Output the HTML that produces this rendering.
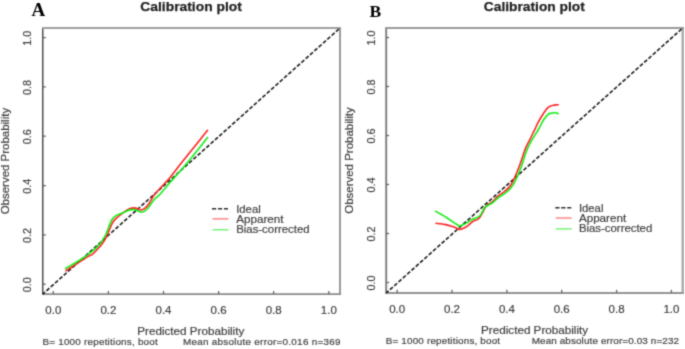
<!DOCTYPE html>
<html><head><meta charset="utf-8"><style>
html,body{margin:0;padding:0;background:#fff;}
svg text{stroke:#444;stroke-width:0.2px;}
svg{display:block;font-family:"Liberation Sans",sans-serif;}
</style></head><body>
<svg width="685" height="349" viewBox="0 0 685 349">
<defs><filter id="bl" x="0" y="0" width="685" height="349" filterUnits="userSpaceOnUse" color-interpolation-filters="sRGB"><feConvolveMatrix order="5" kernelMatrix="0.00001 0.00042 0.00170 0.00042 0.00001 0.00042 0.02740 0.10988 0.02740 0.00042 0.00170 0.10988 0.44065 0.10988 0.00170 0.00042 0.02740 0.10988 0.02740 0.00042 0.00001 0.00042 0.00170 0.00042 0.00001" edgeMode="duplicate"/></filter></defs>
<g filter="url(#bl)">
<rect width="685" height="349" fill="#fff"/>
<line x1="42.75" y1="27.0" x2="42.75" y2="295.1" stroke="#444" stroke-width="1.4"/>
<line x1="340.0" y1="27.0" x2="340.0" y2="295.1" stroke="#9a9a9a" stroke-width="2.0"/>
<line x1="42.05" y1="28.0" x2="341.1" y2="28.0" stroke="#a0a0a0" stroke-width="2.0"/>
<line x1="42.05" y1="294.1" x2="341.1" y2="294.1" stroke="#8a8a8a" stroke-width="1.8"/>
<line x1="53.3" y1="294.1" x2="53.3" y2="290.90000000000003" stroke="#666" stroke-width="1.3"/>
<line x1="42.75" y1="284.2" x2="45.75" y2="284.2" stroke="#666" stroke-width="1.3"/>
<text x="53.3" y="313.6" text-anchor="middle" font-size="11.5" fill="#3d3d3d" textLength="16" lengthAdjust="spacingAndGlyphs">0.0</text>
<text transform="translate(30.6 284.8) rotate(-90)" x="0" y="0" text-anchor="middle" font-size="11.0" fill="#3d3d3d" textLength="15.0" lengthAdjust="spacingAndGlyphs">0.0</text>
<line x1="108.4" y1="294.1" x2="108.4" y2="290.90000000000003" stroke="#666" stroke-width="1.3"/>
<line x1="42.75" y1="234.9" x2="45.75" y2="234.9" stroke="#666" stroke-width="1.3"/>
<text x="108.4" y="313.6" text-anchor="middle" font-size="11.5" fill="#3d3d3d" textLength="16" lengthAdjust="spacingAndGlyphs">0.2</text>
<text transform="translate(30.6 235.5) rotate(-90)" x="0" y="0" text-anchor="middle" font-size="11.0" fill="#3d3d3d" textLength="15.0" lengthAdjust="spacingAndGlyphs">0.2</text>
<line x1="163.5" y1="294.1" x2="163.5" y2="290.90000000000003" stroke="#666" stroke-width="1.3"/>
<line x1="42.75" y1="185.6" x2="45.75" y2="185.6" stroke="#666" stroke-width="1.3"/>
<text x="163.5" y="313.6" text-anchor="middle" font-size="11.5" fill="#3d3d3d" textLength="16" lengthAdjust="spacingAndGlyphs">0.4</text>
<text transform="translate(30.6 186.2) rotate(-90)" x="0" y="0" text-anchor="middle" font-size="11.0" fill="#3d3d3d" textLength="15.0" lengthAdjust="spacingAndGlyphs">0.4</text>
<line x1="218.6" y1="294.1" x2="218.6" y2="290.90000000000003" stroke="#666" stroke-width="1.3"/>
<line x1="42.75" y1="136.2" x2="45.75" y2="136.2" stroke="#666" stroke-width="1.3"/>
<text x="218.6" y="313.6" text-anchor="middle" font-size="11.5" fill="#3d3d3d" textLength="16" lengthAdjust="spacingAndGlyphs">0.6</text>
<text transform="translate(30.6 136.8) rotate(-90)" x="0" y="0" text-anchor="middle" font-size="11.0" fill="#3d3d3d" textLength="15.0" lengthAdjust="spacingAndGlyphs">0.6</text>
<line x1="273.7" y1="294.1" x2="273.7" y2="290.90000000000003" stroke="#666" stroke-width="1.3"/>
<line x1="42.75" y1="86.9" x2="45.75" y2="86.9" stroke="#666" stroke-width="1.3"/>
<text x="273.7" y="313.6" text-anchor="middle" font-size="11.5" fill="#3d3d3d" textLength="16" lengthAdjust="spacingAndGlyphs">0.8</text>
<text transform="translate(30.6 87.5) rotate(-90)" x="0" y="0" text-anchor="middle" font-size="11.0" fill="#3d3d3d" textLength="15.0" lengthAdjust="spacingAndGlyphs">0.8</text>
<line x1="328.8" y1="294.1" x2="328.8" y2="290.90000000000003" stroke="#666" stroke-width="1.3"/>
<line x1="42.75" y1="37.6" x2="45.75" y2="37.6" stroke="#666" stroke-width="1.3"/>
<text x="328.8" y="313.6" text-anchor="middle" font-size="11.5" fill="#3d3d3d" textLength="16" lengthAdjust="spacingAndGlyphs">1.0</text>
<text transform="translate(30.6 38.2) rotate(-90)" x="0" y="0" text-anchor="middle" font-size="11.0" fill="#3d3d3d" textLength="15.0" lengthAdjust="spacingAndGlyphs">1.0</text>
<line x1="42.75" y1="294.1" x2="340.0" y2="28.0" stroke="#151515" stroke-width="1.55" stroke-dasharray="3.9 1.9" stroke-dashoffset="0.85"/>
<path d="M66.0 270.7 C66.8 270.2 68.4 269.2 70.6 267.8 C72.8 266.4 76.3 264.1 79.2 262.2 C82.1 260.3 85.7 257.9 87.8 256.6 C89.9 255.3 90.4 255.8 92.0 254.6 C93.6 253.4 95.6 251.1 97.2 249.4 C98.8 247.7 100.5 245.9 101.8 244.2 C103.1 242.5 104.2 240.7 105.2 239.1 C106.2 237.5 106.7 236.2 107.5 234.5 C108.3 232.8 109.0 230.6 109.8 228.8 C110.6 227.0 111.2 225.1 112.1 223.6 C112.9 222.1 113.9 220.7 114.9 219.6 C115.9 218.5 116.4 218.1 118.0 216.8 C119.6 215.5 122.4 213.1 124.3 211.8 C126.2 210.5 127.8 209.5 129.5 208.8 C131.2 208.2 132.8 207.9 134.2 207.9 C135.6 207.9 137.0 208.5 138.1 208.8 C139.2 209.2 139.7 210.0 140.7 210.0 C141.7 210.0 142.8 209.7 144.1 208.8 C145.4 207.9 147.1 206.2 148.4 204.5 C149.7 202.8 150.7 200.7 151.8 198.9 C152.9 197.2 152.0 197.6 155.0 194.0 C158.0 190.4 165.4 182.8 170.0 177.4 C174.6 172.0 178.3 166.7 182.5 161.5 C186.7 156.3 190.8 151.2 195.0 146.0 C199.2 140.8 205.4 132.9 207.5 130.3" fill="none" stroke="#f22" stroke-width="1.6" stroke-linejoin="round" stroke-linecap="round"/>
<path d="M65.6 268.5 C66.4 268.0 68.3 266.9 70.6 265.6 C72.9 264.3 76.3 262.3 79.2 260.5 C82.1 258.7 85.2 256.6 87.8 254.6 C90.4 252.7 93.0 250.5 94.9 248.8 C96.9 247.1 98.2 245.7 99.5 244.2 C100.8 242.7 101.9 241.2 102.9 239.6 C104.0 238.0 104.9 236.3 105.8 234.5 C106.7 232.7 107.3 230.7 108.1 228.8 C108.8 226.9 109.5 224.9 110.3 223.2 C111.0 221.5 111.6 220.1 112.6 218.8 C113.6 217.5 115.0 216.3 116.1 215.6 C117.2 214.8 117.8 214.9 119.2 214.3 C120.6 213.7 122.6 212.9 124.3 212.2 C126.0 211.5 127.8 210.3 129.5 209.9 C131.2 209.5 132.8 209.4 134.2 209.6 C135.6 209.8 136.9 210.5 138.1 210.9 C139.3 211.3 140.3 212.2 141.5 212.2 C142.7 212.2 143.8 211.7 145.0 210.9 C146.2 210.1 147.3 208.9 148.4 207.5 C149.5 206.1 150.7 204.1 151.8 202.7 C152.9 201.2 153.6 200.2 155.0 198.8 C156.4 197.4 157.5 196.9 160.0 194.2 C162.5 191.5 165.8 187.3 170.0 182.5 C174.2 177.7 180.5 170.8 185.0 165.5 C189.5 160.2 193.2 155.5 197.0 150.8 C200.8 146.1 205.8 139.7 207.6 137.5" fill="none" stroke="#1e1" stroke-width="1.6" stroke-linejoin="round" stroke-linecap="round"/>
<line x1="212" y1="208.7" x2="228" y2="208.7" stroke="#2a2a2a" stroke-width="1.6" stroke-dasharray="4.2 1.8"/>
<line x1="212.5" y1="218.9" x2="228.4" y2="218.9" stroke="#f66" stroke-width="1.2"/>
<line x1="212.5" y1="229.8" x2="228.4" y2="229.8" stroke="#5e5" stroke-width="1.2"/>
<text x="236.2" y="212.5" font-size="11.3" fill="#3d3d3d">Ideal</text>
<text x="236.2" y="222.7" font-size="11.3" fill="#3d3d3d" textLength="47.3" lengthAdjust="spacingAndGlyphs">Apparent</text>
<text x="236.2" y="233.2" font-size="11.3" fill="#3d3d3d" textLength="73.4" lengthAdjust="spacingAndGlyphs">Bias-corrected</text>
<text x="140.3" y="11" font-size="13.6" font-weight="bold" fill="#1e1e1e" style="stroke:#1e1e1e;stroke-width:0.25px" textLength="101.5" lengthAdjust="spacingAndGlyphs">Calibration plot</text>
<text x="31.6" y="15.6" font-family="Liberation Serif" font-size="19" font-weight="bold" fill="#000" style="stroke:none">A</text>
<text x="137.3" y="334.8" font-size="11.5" fill="#3d3d3d" textLength="107" lengthAdjust="spacingAndGlyphs">Predicted Probability</text>
<text transform="translate(8.6 161.1) rotate(-90)" text-anchor="middle" font-size="11.5" fill="#3d3d3d" textLength="106.5" lengthAdjust="spacingAndGlyphs">Observed Probability</text>
<text x="42.4" y="345.2" font-size="9.9" fill="#3d3d3d" textLength="115.4" lengthAdjust="spacing">B= 1000 repetitions, boot</text>
<text x="183" y="345.2" font-size="9.9" fill="#3d3d3d" textLength="157.5" lengthAdjust="spacing">Mean absolute error=0.016 n=369</text>
<line x1="386.2" y1="27.0" x2="386.2" y2="294.0" stroke="#7c7c7c" stroke-width="1.9"/>
<line x1="682.7" y1="27.0" x2="682.7" y2="294.0" stroke="#a5a5a5" stroke-width="2.3"/>
<line x1="385.5" y1="28.0" x2="683.8000000000001" y2="28.0" stroke="#9a9a9a" stroke-width="2.0"/>
<line x1="385.5" y1="293.0" x2="683.8000000000001" y2="293.0" stroke="#939393" stroke-width="2.0"/>
<line x1="397.2" y1="293.0" x2="397.2" y2="289.8" stroke="#666" stroke-width="1.3"/>
<line x1="386.2" y1="282.5" x2="389.2" y2="282.5" stroke="#666" stroke-width="1.3"/>
<text x="397.2" y="312.9" text-anchor="middle" font-size="11.5" fill="#3d3d3d" textLength="16" lengthAdjust="spacingAndGlyphs">0.0</text>
<text transform="translate(374.6 283.1) rotate(-90)" x="0" y="0" text-anchor="middle" font-size="11.0" fill="#3d3d3d" textLength="15.0" lengthAdjust="spacingAndGlyphs">0.0</text>
<line x1="452.0" y1="293.0" x2="452.0" y2="289.8" stroke="#666" stroke-width="1.3"/>
<line x1="386.2" y1="233.5" x2="389.2" y2="233.5" stroke="#666" stroke-width="1.3"/>
<text x="452.0" y="312.9" text-anchor="middle" font-size="11.5" fill="#3d3d3d" textLength="16" lengthAdjust="spacingAndGlyphs">0.2</text>
<text transform="translate(374.6 234.1) rotate(-90)" x="0" y="0" text-anchor="middle" font-size="11.0" fill="#3d3d3d" textLength="15.0" lengthAdjust="spacingAndGlyphs">0.2</text>
<line x1="506.9" y1="293.0" x2="506.9" y2="289.8" stroke="#666" stroke-width="1.3"/>
<line x1="386.2" y1="184.5" x2="389.2" y2="184.5" stroke="#666" stroke-width="1.3"/>
<text x="506.9" y="312.9" text-anchor="middle" font-size="11.5" fill="#3d3d3d" textLength="16" lengthAdjust="spacingAndGlyphs">0.4</text>
<text transform="translate(374.6 185.1) rotate(-90)" x="0" y="0" text-anchor="middle" font-size="11.0" fill="#3d3d3d" textLength="15.0" lengthAdjust="spacingAndGlyphs">0.4</text>
<line x1="561.7" y1="293.0" x2="561.7" y2="289.8" stroke="#666" stroke-width="1.3"/>
<line x1="386.2" y1="135.5" x2="389.2" y2="135.5" stroke="#666" stroke-width="1.3"/>
<text x="561.7" y="312.9" text-anchor="middle" font-size="11.5" fill="#3d3d3d" textLength="16" lengthAdjust="spacingAndGlyphs">0.6</text>
<text transform="translate(374.6 136.1) rotate(-90)" x="0" y="0" text-anchor="middle" font-size="11.0" fill="#3d3d3d" textLength="15.0" lengthAdjust="spacingAndGlyphs">0.6</text>
<line x1="616.6" y1="293.0" x2="616.6" y2="289.8" stroke="#666" stroke-width="1.3"/>
<line x1="386.2" y1="86.5" x2="389.2" y2="86.5" stroke="#666" stroke-width="1.3"/>
<text x="616.6" y="312.9" text-anchor="middle" font-size="11.5" fill="#3d3d3d" textLength="16" lengthAdjust="spacingAndGlyphs">0.8</text>
<text transform="translate(374.6 87.1) rotate(-90)" x="0" y="0" text-anchor="middle" font-size="11.0" fill="#3d3d3d" textLength="15.0" lengthAdjust="spacingAndGlyphs">0.8</text>
<line x1="671.4" y1="293.0" x2="671.4" y2="289.8" stroke="#666" stroke-width="1.3"/>
<line x1="386.2" y1="37.5" x2="389.2" y2="37.5" stroke="#666" stroke-width="1.3"/>
<text x="671.4" y="312.9" text-anchor="middle" font-size="11.5" fill="#3d3d3d" textLength="16" lengthAdjust="spacingAndGlyphs">1.0</text>
<text transform="translate(374.6 38.1) rotate(-90)" x="0" y="0" text-anchor="middle" font-size="11.0" fill="#3d3d3d" textLength="15.0" lengthAdjust="spacingAndGlyphs">1.0</text>
<line x1="386.2" y1="293.0" x2="682.7" y2="28.0" stroke="#151515" stroke-width="1.55" stroke-dasharray="3.9 1.88" stroke-dashoffset="0.77"/>
<path d="M436.0 223.3 C436.8 223.4 439.0 223.5 440.6 223.7 C442.2 223.9 444.1 224.2 445.8 224.6 C447.5 225.0 449.2 225.5 450.9 226.1 C452.6 226.7 454.8 227.4 456.1 228.0 C457.5 228.6 457.9 229.3 459.0 229.4 C460.1 229.5 461.5 229.2 463.0 228.6 C464.5 228.0 466.3 226.8 468.0 225.6 C469.7 224.4 471.5 222.4 473.0 221.4 C474.5 220.4 476.0 220.3 477.2 219.6 C478.4 218.9 479.1 218.2 480.0 217.0 C480.9 215.8 481.8 213.9 482.6 212.5 C483.4 211.1 483.9 209.7 484.6 208.5 C485.3 207.3 486.1 206.4 487.0 205.5 C487.9 204.6 488.9 204.1 490.0 203.3 C491.1 202.6 492.0 202.2 493.3 201.0 C494.6 199.8 496.0 197.8 497.9 196.2 C499.8 194.6 502.5 193.1 504.4 191.5 C506.3 189.9 508.1 188.5 509.5 186.9 C510.9 185.3 511.7 183.7 512.7 181.8 C513.7 179.9 514.5 178.0 515.6 175.4 C516.7 172.8 518.2 169.3 519.4 166.0 C520.6 162.7 521.8 159.0 522.9 155.8 C524.0 152.6 524.8 149.7 526.1 146.8 C527.4 143.9 529.1 141.2 530.5 138.4 C531.9 135.6 533.4 132.2 534.6 129.8 C535.8 127.4 536.5 125.7 537.5 123.7 C538.5 121.7 539.6 119.7 540.6 118.0 C541.6 116.3 542.6 114.9 543.3 113.8 C544.0 112.7 544.2 112.2 545.0 111.2 C545.8 110.2 546.9 108.6 547.9 107.7 C548.9 106.8 549.8 106.4 550.7 106.0 C551.7 105.6 552.6 105.4 553.6 105.2 C554.6 105.0 555.7 104.9 556.5 104.8 C557.3 104.7 558.0 104.8 558.3 104.8" fill="none" stroke="#f22" stroke-width="1.6" stroke-linejoin="round" stroke-linecap="round"/>
<path d="M435.6 211.3 C436.5 211.8 439.3 213.3 441.0 214.3 C442.7 215.3 444.3 216.1 446.0 217.2 C447.7 218.2 449.3 219.5 451.0 220.6 C452.7 221.7 454.6 223.0 456.0 223.9 C457.4 224.8 458.4 225.9 459.6 226.0 C460.8 226.1 461.6 225.3 463.0 224.7 C464.4 224.0 466.2 223.1 468.0 222.1 C469.8 221.1 472.0 219.6 473.5 218.8 C475.0 218.1 475.9 218.2 477.0 217.6 C478.1 217.0 479.5 216.3 480.4 215.3 C481.3 214.3 481.7 212.8 482.4 211.6 C483.1 210.4 483.7 208.9 484.4 208.0 C485.1 207.1 485.9 206.6 486.8 206.0 C487.7 205.4 488.9 205.0 490.0 204.4 C491.1 203.8 492.0 203.3 493.3 202.2 C494.6 201.1 496.0 199.4 497.9 198.0 C499.8 196.6 502.5 195.0 504.4 193.6 C506.3 192.2 508.0 191.0 509.5 189.5 C511.0 188.0 512.3 186.1 513.4 184.4 C514.5 182.7 515.2 180.9 516.0 179.2 C516.8 177.5 517.4 176.4 518.3 174.2 C519.2 172.0 520.5 169.2 521.6 166.1 C522.7 163.0 523.7 158.9 524.8 155.8 C525.9 152.7 526.7 150.3 528.0 147.4 C529.3 144.5 531.2 141.3 532.8 138.6 C534.4 135.9 536.1 133.3 537.5 131.0 C538.9 128.7 539.9 126.8 540.9 124.9 C541.9 123.0 542.6 121.2 543.8 119.5 C545.0 117.8 546.8 115.6 547.9 114.6 C549.0 113.5 549.8 113.5 550.7 113.2 C551.7 112.9 552.6 112.8 553.6 112.8 C554.6 112.8 555.7 112.9 556.5 113.0 C557.3 113.1 557.9 113.4 558.2 113.5" fill="none" stroke="#1e1" stroke-width="1.6" stroke-linejoin="round" stroke-linecap="round"/>
<line x1="555.3" y1="207.8" x2="571.3" y2="207.8" stroke="#2a2a2a" stroke-width="1.6" stroke-dasharray="4.2 1.8"/>
<line x1="555.8" y1="218.0" x2="571.6999999999999" y2="218.0" stroke="#f66" stroke-width="1.2"/>
<line x1="555.8" y1="228.9" x2="571.6999999999999" y2="228.9" stroke="#5e5" stroke-width="1.2"/>
<text x="578.9" y="211.6" font-size="11.3" fill="#3d3d3d">Ideal</text>
<text x="578.9" y="221.8" font-size="11.3" fill="#3d3d3d" textLength="47.3" lengthAdjust="spacingAndGlyphs">Apparent</text>
<text x="578.9" y="232.3" font-size="11.3" fill="#3d3d3d" textLength="73.4" lengthAdjust="spacingAndGlyphs">Bias-corrected</text>
<text x="483.8" y="11" font-size="13.6" font-weight="bold" fill="#1e1e1e" style="stroke:#1e1e1e;stroke-width:0.25px" textLength="101.0" lengthAdjust="spacingAndGlyphs">Calibration plot</text>
<text x="369.5" y="17.0" font-family="Liberation Serif" font-size="17.5" font-weight="bold" fill="#000" style="stroke:none">B</text>
<text x="481.1" y="333.9" font-size="11.5" fill="#3d3d3d" textLength="107" lengthAdjust="spacingAndGlyphs">Predicted Probability</text>
<text transform="translate(352.6 160.5) rotate(-90)" text-anchor="middle" font-size="11.5" fill="#3d3d3d" textLength="106.5" lengthAdjust="spacingAndGlyphs">Observed Probability</text>
<text x="385.7" y="344.2" font-size="9.9" fill="#3d3d3d" textLength="114.4" lengthAdjust="spacing">B= 1000 repetitions, boot</text>
<text x="531.7" y="344.2" font-size="9.9" fill="#3d3d3d" textLength="147.3" lengthAdjust="spacing">Mean absolute error=0.03 n=232</text>
</g>
</svg>
</body></html>
